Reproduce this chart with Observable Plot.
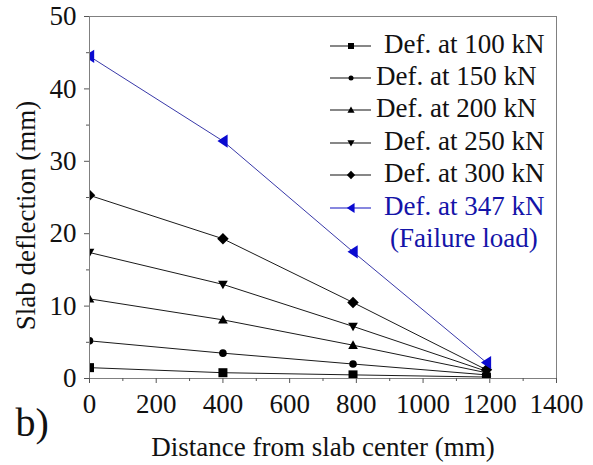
<!DOCTYPE html>
<html>
<head>
<meta charset="utf-8">
<script src="https://cdn.jsdelivr.net/npm/d3@7"></script>
<script src="https://cdn.jsdelivr.net/npm/@observablehq/plot@0.6"></script>
<style>
  html, body { margin: 0; padding: 0; background: #fff; }
  #chart { position: relative; width: 593px; height: 465px; }
  #chart svg, #chart svg text { font-family: "Liberation Serif", "Times New Roman", serif !important; }
</style>
</head>
<body>
<div id="chart"></div>
<script>
// ---- data ----
const distances = [0, 400, 790, 1190];           // mm from slab center
const seriesNames = ["Def. at 100 kN", "Def. at 150 kN", "Def. at 200 kN",
                     "Def. at 250 kN", "Def. at 300 kN", "Def. at 347 kN"];
const def100 = [1.5, 0.8, 0.5, 0.2];
const def150 = [5.2, 3.5, 2.0, 0.5];
const def200 = [11.0, 8.1, 4.6, 0.8];
const def250 = [17.4, 13.0, 7.2, 1.0];
const def300 = [25.3, 19.3, 10.5, 1.2];
const def347 = [44.5, 32.8, 17.5, 2.2];
const xTicks = [0, 200, 400, 600, 800, 1000, 1200, 1400];
const xMinor = [100, 300, 500, 700, 900, 1100, 1300];
const yTicks = [0, 10, 20, 30, 40, 50];
const yMinor = [5, 15, 25, 35, 45];
const failureNote = "(Failure load)";

// ---- symbols ----
function sym(kind) {
  return {
    draw(ctx, size) {
      const r = Math.sqrt(size / Math.PI);
      switch (kind) {
        case "square":
          ctx.moveTo(-r, -r); ctx.lineTo(r, -r); ctx.lineTo(r, r); ctx.lineTo(-r, r); break;
        case "circle":
          ctx.moveTo(r, 0); ctx.arc(0, 0, r, 0, 2 * Math.PI); break;
        case "up":
          ctx.moveTo(0, -r * 1.05); ctx.lineTo(r * 1.05, r * 0.8); ctx.lineTo(-r * 1.05, r * 0.8); break;
        case "down":
          ctx.moveTo(0, r * 1.05); ctx.lineTo(r * 1.05, -r * 0.8); ctx.lineTo(-r * 1.05, -r * 0.8); break;
        case "diamond":
          ctx.moveTo(0, -r * 1.15); ctx.lineTo(r * 1.15, 0); ctx.lineTo(0, r * 1.15); ctx.lineTo(-r * 1.15, 0); break;
        case "left":
          ctx.moveTo(-r * 1.0, 0); ctx.lineTo(r * 0.85, -r * 1.2); ctx.lineTo(r * 0.85, r * 1.2); break;
      }
      ctx.closePath();
    }
  };
}

const seriesValues = [def100, def150, def200, def250, def300, def347];
const seriesSym = ["square", "circle", "up", "down", "diamond", "left"];
const seriesR = [4.5, 3.8, 4.6, 4.6, 5.0, 5.5];
const legendR = [3.0, 2.5, 3.4, 3.4, 3.6, 4.2];
const lineColor = ["#1a1a1a", "#1a1a1a", "#1a1a1a", "#1a1a1a", "#1a1a1a", "#3838a8"];
const markColor = ["#000", "#000", "#000", "#000", "#000", "#0a0ad0"];
const textColor = ["#111", "#111", "#111", "#111", "#111", "#1414a8"];

const rows = seriesNames.map((name, i) =>
  distances.map((d, j) => ({series: name, idx: i, x: d, y: seriesValues[i][j]})));

const FONT = "'Liberation Serif', 'Times New Roman', serif";

const marks = [];
rows.forEach((data, i) => {
  marks.push(Plot.line(data, {x: "x", y: "y", stroke: lineColor[i], strokeWidth: 1, clip: true}));
});
rows.forEach((data, i) => {
  marks.push(Plot.dot(data, {x: "x", y: "y", symbol: sym(seriesSym[i]), r: seriesR[i],
    fill: markColor[i], stroke: "none", clip: true}));
});
marks.push(
  Plot.frame({stroke: "#808080", strokeWidth: 1}),
  Plot.axisX({ticks: xTicks, tickSize: 5, tickPadding: 10, fontSize: 27, fontFamily: FONT,
    label: null, stroke: "#555", color: "#111", tickFormat: d => String(d)}),
  Plot.axisX({ticks: xMinor, tickSize: 3, text: null, label: null, stroke: "#555"}),
  Plot.axisY({ticks: yTicks, tickSize: 5, tickPadding: 8, fontSize: 27, fontFamily: FONT,
    label: null, stroke: "#555", color: "#111"}),
  Plot.axisY({ticks: yMinor, tickSize: 3, text: null, label: null, stroke: "#555"}),
  Plot.text(["Distance from slab center (mm)"], {frameAnchor: "bottom", textAnchor: "middle",
    lineAnchor: "middle", dy: 69, fontSize: 27, fontFamily: FONT, fill: "#111"}),
  Plot.text(["Slab deflection (mm)"], {frameAnchor: "left", textAnchor: "middle",
    lineAnchor: "middle", rotate: -90, dx: -63, dy: 18, fontSize: 27, fontFamily: FONT, fill: "#111"}),
  Plot.text(["b)"], {frameAnchor: "bottom-left", textAnchor: "start", lineAnchor: "middle",
    dx: -74, dy: 45, fontSize: 40, fontFamily: FONT, fill: "#111"})
);

const chart = Plot.plot({
  width: 593,
  height: 465,
  marginLeft: 89,
  marginRight: 37,
  marginTop: 16,
  marginBottom: 87,
  style: {fontFamily: FONT, background: "#fff", overflow: "visible"},
  x: {domain: [0, 1400], axis: null},
  y: {domain: [0, 50], axis: null},
  marks
});
document.getElementById("chart").appendChild(chart);

// ---- legend (drawn inside the SVG) ----
const svg = d3.select(chart);
const lg = svg.append("g").attr("font-family", FONT).attr("font-size", 27).attr("text-anchor", "start");
const baselines = [53, 85, 117, 150, 182, 215];
const textX = [384, 376, 376, 384, 384, 384];
seriesNames.forEach((name, i) => {
  const ly = baselines[i] - 7;
  lg.append("line").attr("x1", 330).attr("x2", 371).attr("y1", ly).attr("y2", ly)
    .attr("stroke", i === 5 ? "#1010c0" : "#111").attr("stroke-width", 1.2);
  lg.append("path")
    .attr("d", d3.symbol(sym(seriesSym[i]), Math.PI * legendR[i] * legendR[i])())
    .attr("transform", `translate(351,${ly})`)
    .attr("fill", markColor[i]);
  lg.append("text").attr("x", textX[i]).attr("y", baselines[i]).attr("fill", textColor[i]).text(name);
});
lg.append("text").attr("x", 390).attr("y", 247).attr("fill", textColor[5]).text(failureNote);
</script>
</body>
</html>
